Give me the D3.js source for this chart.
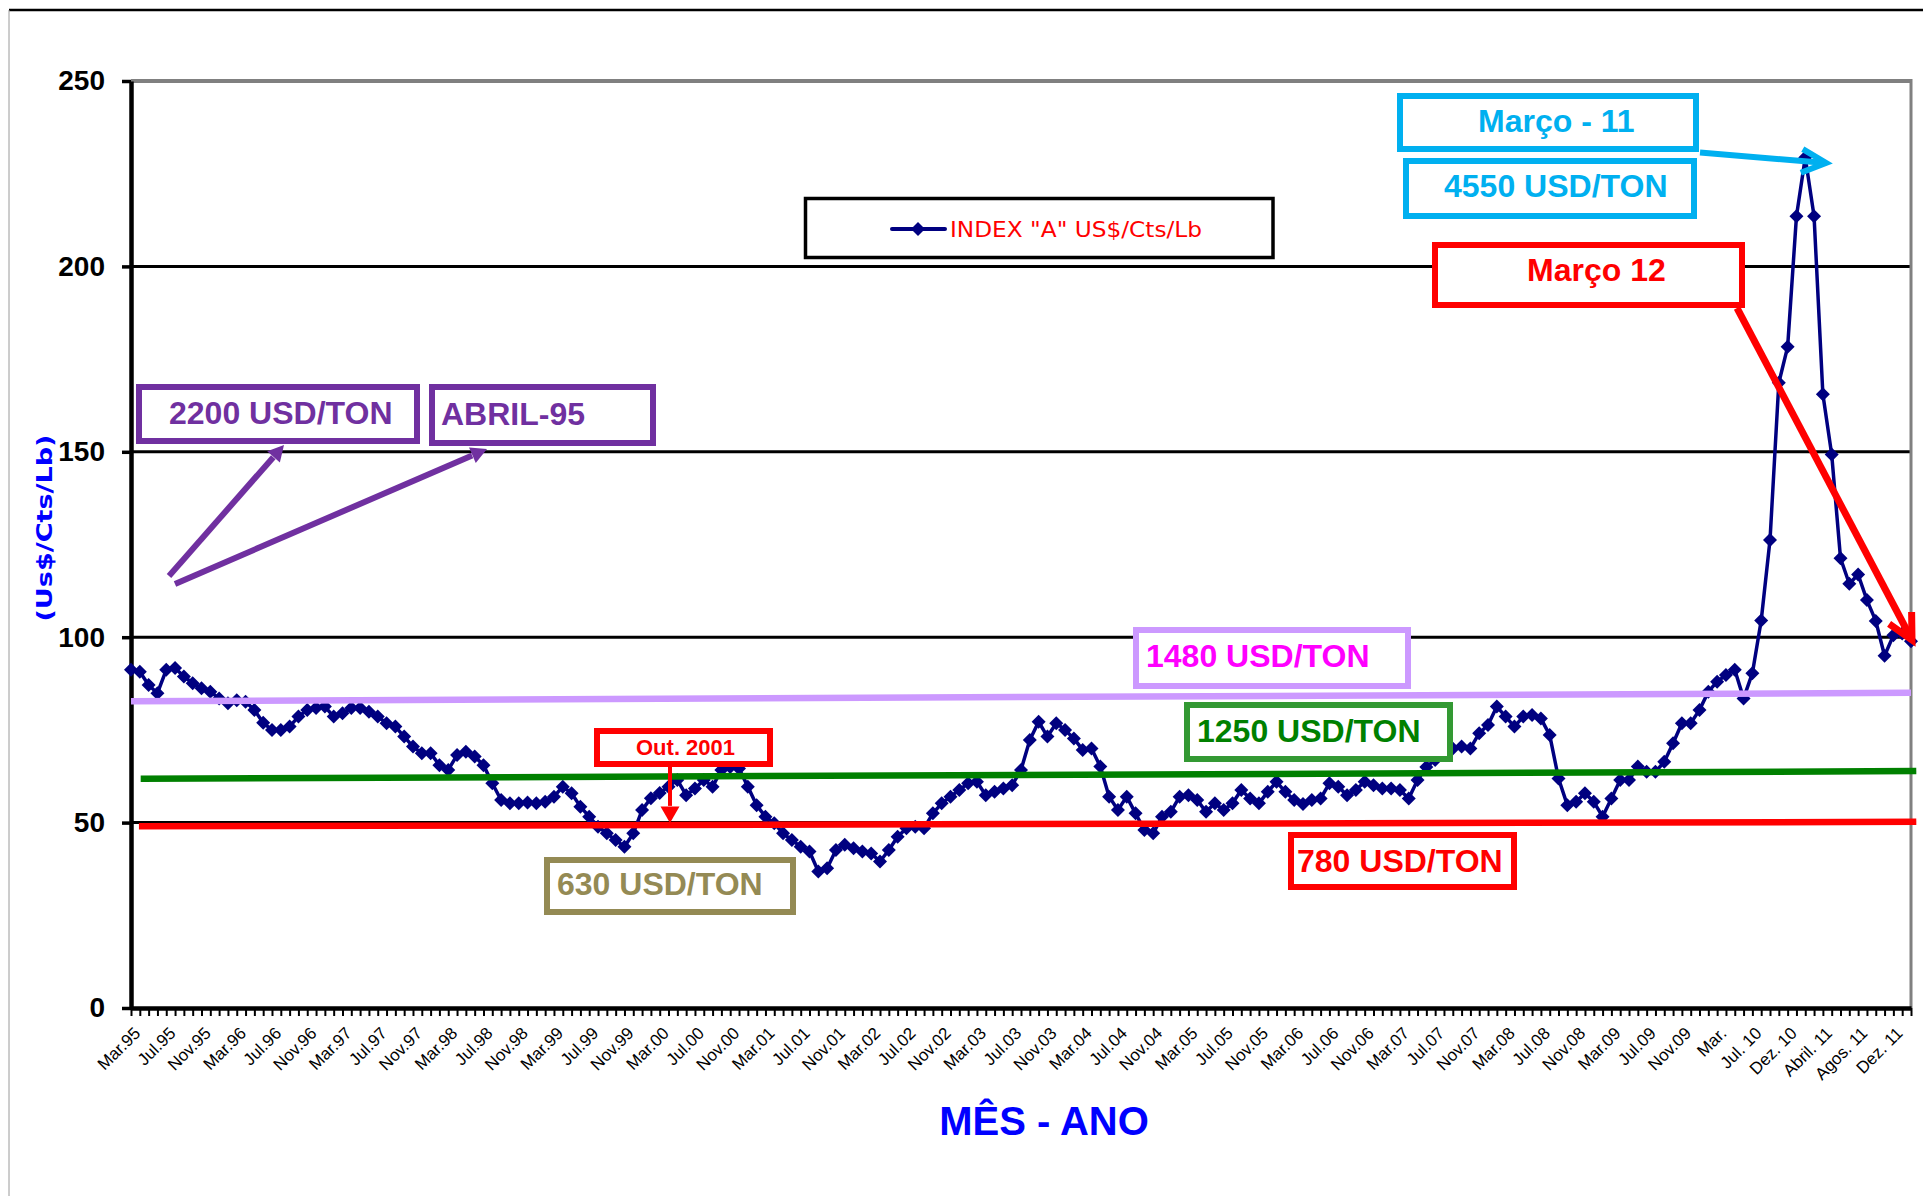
<!DOCTYPE html>
<html>
<head>
<meta charset="utf-8">
<script src="https://cdn.jsdelivr.net/npm/d3@7"></script>
<style>
  html, body { margin: 0; padding: 0; background: #fff; }
  svg { display: block; }
</style>
</head>
<body>
<svg id="chart" width="1923" height="1196"></svg>
<script>
// ---- data ----------------------------------------------------------------
const seriesName = 'INDEX "A" US$/Cts/Lb';
const yTitle = "(Us$/Cts/Lb)";
const xTitle = "MÊS - ANO";

// category labels, one for every fourth observation
const tickLabels = [
  "Mar.95","Jul.95","Nov.95","Mar.96","Jul.96","Nov.96","Mar.97","Jul.97","Nov.97",
  "Mar.98","Jul.98","Nov.98","Mar.99","Jul.99","Nov.99","Mar.00","Jul.00","Nov.00",
  "Mar.01","Jul.01","Nov.01","Mar.02","Jul.02","Nov.02","Mar.03","Jul.03","Nov.03",
  "Mar.04","Jul.04","Nov.04","Mar.05","Jul.05","Nov.05","Mar.06","Jul.06","Nov.06",
  "Mar.07","Jul.07","Nov.07","Mar.08","Jul.08","Nov.08","Mar.09","Jul.09","Nov.09",
  "Mar.","Jul. 10","Dez. 10","Abril. 11","Agos. 11","Dez. 11"
];
const labelEvery = 4;

// Cotlook INDEX "A", US cents per lb
const indexA = [
  91.2, 90.7, 87.1, 84.9, 91.2, 91.7, 89.4, 87.6, 86.2, 85.3,
  83.5, 82.2, 83.0, 82.6, 80.4, 76.9, 75.0, 75.0, 75.9, 78.6,
  80.4, 80.9, 81.3, 78.6, 79.5, 80.9, 80.9, 79.9, 78.6, 76.8,
  75.9, 73.2, 70.5, 68.7, 68.7, 65.5, 64.2, 68.2, 69.1, 67.8,
  65.5, 60.6, 56.1, 55.2, 55.2, 55.4, 55.2, 55.6, 57.0, 59.7,
  57.9, 54.3, 51.6, 48.9, 47.1, 45.3, 43.5, 47.1, 53.4, 56.6,
  58.0, 59.7, 61.5, 57.4, 59.2, 61.5, 59.7, 64.2, 65.0, 64.6,
  59.7, 54.7, 51.6, 49.8, 47.1, 45.3, 43.5, 42.2, 36.8, 37.7,
  42.6, 44.0, 43.1, 42.2, 41.7, 39.5, 42.6, 46.2, 48.5, 48.9,
  48.5, 52.5, 55.2, 57.0, 58.8, 60.6, 61.0, 57.4, 58.3, 59.2,
  60.1, 64.2, 72.3, 77.2, 73.2, 76.8, 75.0, 72.7, 69.6, 70.0,
  65.1, 57.0, 53.4, 57.0, 52.5, 48.0, 47.1, 51.6, 52.9, 57.0,
  57.4, 56.1, 52.9, 55.2, 53.4, 55.2, 58.8, 56.5, 55.2, 58.3,
  61.0, 58.3, 56.1, 55.0, 56.1, 56.5, 60.6, 59.7, 57.4, 58.8,
  61.0, 60.1, 59.2, 59.2, 58.8, 56.5, 61.5, 65.0, 66.9, 69.0,
  70.0, 70.5, 70.0, 74.1, 76.3, 81.3, 78.6, 75.9, 78.6, 79.0,
  78.1, 73.6, 61.9, 54.7, 55.6, 57.9, 55.6, 51.6, 56.5, 61.5,
  61.5, 65.1, 63.7, 63.7, 66.4, 71.4, 76.8, 76.8, 80.4, 85.3,
  88.0, 89.8, 91.2, 83.5, 90.3, 104.5, 126.2, 168.6, 178.3, 213.5,
  229.4, 213.5, 165.5, 149.3, 121.3, 114.4, 116.9, 110.0, 104.4, 95.0,
  100.5, 101.0, 98.9
];

const yTicks = [0, 50, 100, 150, 200, 250];

// price reference levels (value at the start and at the end of each line)
const levelNames  = ["1480 USD/TON", "1250 USD/TON", "780 USD/TON"];
const levelStart  = [[0.0, 82.7], [1.1, 61.8], [0.9, 49.0]];
const levelEnd    = [[202.0, 85.0], [202.6, 63.9], [202.6, 50.2]];
const levelColors = ["#CC99FF", "#008000", "#FF0000"];

// ---- layout --------------------------------------------------------------
const W = 1923, H = 1196;
const plot = { left: 131, right: 1911, top: 81, bottom: 1008 };
const FONT = "'Liberation Sans', Arial, Helvetica, sans-serif";
const FONT_ROUND = "'DejaVu Sans', Verdana, sans-serif";

const svg = d3.select("#chart");
svg.append("rect").attr("width", W).attr("height", H).attr("fill", "#fff");

// outer frame
svg.append("line").attr("x1", 9).attr("x2", W).attr("y1", 10).attr("y2", 10)
  .attr("stroke", "#000").attr("stroke-width", 2.5);
svg.append("line").attr("x1", 9).attr("x2", 9).attr("y1", 10).attr("y2", H)
  .attr("stroke", "#9a9a9a").attr("stroke-width", 1);

const x = d3.scaleLinear().domain([0, indexA.length - 1]).range([plot.left, plot.right]);
const y = d3.scaleLinear().domain([0, 250]).range([plot.bottom, plot.top]);

// horizontal gridlines
const grid = svg.append("g");
grid.selectAll("line").data(yTicks.filter(v => v > 0)).join("line")
  .attr("x1", plot.left).attr("x2", plot.right)
  .attr("y1", d => y(d)).attr("y2", d => y(d))
  .attr("stroke", d => d === 250 ? "#808080" : "#000")
  .attr("stroke-width", d => d === 250 ? 4 : 3);
// right border of the plot area
svg.append("line").attr("x1", plot.right).attr("x2", plot.right)
  .attr("y1", plot.top - 2).attr("y2", plot.bottom)
  .attr("stroke", "#808080").attr("stroke-width", 3);

// y axis
const yAxis = svg.append("g").attr("transform", `translate(${plot.left},0)`)
  .call(d3.axisLeft(y).tickValues(yTicks).tickSize(9).tickSizeOuter(0).tickPadding(17));
yAxis.select(".domain").attr("stroke", "#000").attr("stroke-width", 4.5);
yAxis.selectAll(".tick line").attr("stroke", "#000").attr("stroke-width", 3.5);
yAxis.selectAll(".tick text").attr("fill", "#000")
  .style("font-family", FONT).style("font-size", "28px").style("font-weight", "bold");

// x axis: a small tick under every observation
const xAxis = svg.append("g").attr("transform", `translate(0,${plot.bottom})`)
  .call(d3.axisBottom(x).tickValues(d3.range(indexA.length)).tickSize(8)
        .tickSizeOuter(0).tickFormat(""));
xAxis.select(".domain").attr("stroke", "#000").attr("stroke-width", 4.5);
xAxis.selectAll(".tick line").attr("stroke", "#000").attr("stroke-width", 2);

// rotated category labels
svg.append("g").selectAll("text").data(tickLabels).join("text")
  .attr("transform", (d, i) => `translate(${x(i * labelEvery) + 6},${plot.bottom + 22}) rotate(-45)`)
  .attr("text-anchor", "end").attr("dy", "0.36em")
  .style("font-family", FONT).style("font-size", "17px").attr("fill", "#000")
  .text(d => d);

// axis titles
svg.append("text").attr("x", 1044).attr("y", 1135).attr("text-anchor", "middle")
  .style("font-family", FONT).style("font-size", "40px").style("font-weight", "bold")
  .attr("fill", "#0000FF").text(xTitle);
svg.append("text").attr("transform", "translate(52,528) rotate(-90)")
  .attr("text-anchor", "middle")
  .style("font-family", FONT_ROUND).style("font-size", "22px").style("font-weight", "bold")
  .attr("textLength", 187).attr("lengthAdjust", "spacingAndGlyphs")
  .attr("fill", "#0000FF").text(yTitle);

// ---- series ----------------------------------------------------------------
const diamond = r => `M0,${-r}L${r},0L0,${r}L${-r},0Z`;
const line = d3.line().x((d, i) => x(i)).y(d => y(d));
svg.append("path").datum(indexA).attr("d", line)
  .attr("fill", "none").attr("stroke", "#000080").attr("stroke-width", 3.5)
  .attr("stroke-linejoin", "round");
svg.append("g").selectAll("path").data(indexA).join("path")
  .attr("transform", (d, i) => `translate(${x(i)},${y(d)})`)
  .attr("d", diamond(7)).attr("fill", "#000080");

// ---- reference levels --------------------------------------------------------
svg.append("g").selectAll("line").data(levelNames).join("line")
  .attr("x1", (d, i) => x(levelStart[i][0])).attr("y1", (d, i) => y(levelStart[i][1]))
  .attr("x2", (d, i) => x(levelEnd[i][0])).attr("y2", (d, i) => y(levelEnd[i][1]))
  .attr("stroke", (d, i) => levelColors[i]).attr("stroke-width", 6.5);

// ---- legend ------------------------------------------------------------------
const lg = svg.append("g");
lg.append("rect").attr("x", 805.5).attr("y", 198.5).attr("width", 467.5).attr("height", 59)
  .attr("fill", "#fff").attr("stroke", "#000").attr("stroke-width", 3.5);
lg.append("line").attr("x1", 892).attr("x2", 945).attr("y1", 229).attr("y2", 229)
  .attr("stroke", "#000080").attr("stroke-width", 4).attr("stroke-linecap", "round");
lg.append("path").attr("transform", "translate(918,229)").attr("d", diamond(7)).attr("fill", "#000080");
lg.append("text").attr("x", 950).attr("y", 237)
  .style("font-family", FONT_ROUND).style("font-size", "21px")
  .attr("textLength", 252).attr("lengthAdjust", "spacingAndGlyphs")
  .attr("fill", "#FF0000").text(seriesName);

// ---- annotations ---------------------------------------------------------------
const notes = [
  { t: "2200 USD/TON", b: [136, 384, 420, 444], c: "#7030A0", tc: "#7030A0", tx: 169, ty: 424, fs: 32 },
  { t: "ABRIL-95",     b: [429, 384, 656, 446], c: "#7030A0", tc: "#7030A0", tx: 441, ty: 425, fs: 32 },
  { t: "1480 USD/TON", b: [1133, 627, 1411, 689], c: "#CC99FF", tc: "#FF00FF", tx: 1146, ty: 667, fs: 32 },
  { t: "1250 USD/TON", b: [1184, 702, 1453, 762], c: "#339933", tc: "#008000", tx: 1197, ty: 742, fs: 32 },
  { t: "780 USD/TON",  b: [1288, 832, 1517, 890], c: "#FF0000", tc: "#FF0000", tx: 1297, ty: 872, fs: 32 },
  { t: "630 USD/TON",  b: [544, 857, 796, 915],   c: "#948A54", tc: "#948A54", tx: 557, ty: 895, fs: 32 },
  { t: "Out. 2001",    b: [594, 728, 773, 767],   c: "#FF0000", tc: "#FF0000", tx: 636, ty: 755, fs: 22 },
  { t: "Março - 11",   b: [1397, 93, 1699, 152],  c: "#00B0F0", tc: "#00B0F0", tx: 1478, ty: 132, fs: 32 },
  { t: "4550 USD/TON", b: [1403, 158, 1697, 219], c: "#00B0F0", tc: "#00B0F0", tx: 1444, ty: 197, fs: 32 },
  { t: "Março 12",     b: [1432, 242, 1745, 308], c: "#FF0000", tc: "#FF0000", tx: 1527, ty: 281, fs: 32 }
];
const sw = 6;
const ng = svg.append("g");
notes.forEach(n => {
  ng.append("rect")
    .attr("x", n.b[0] + sw / 2).attr("y", n.b[1] + sw / 2)
    .attr("width", n.b[2] - n.b[0] - sw).attr("height", n.b[3] - n.b[1] - sw)
    .attr("fill", "#fff").attr("stroke", n.c).attr("stroke-width", sw);
  ng.append("text").attr("x", n.tx).attr("y", n.ty)
    .style("font-family", FONT).style("font-size", n.fs + "px").style("font-weight", "bold")
    .attr("fill", n.tc).text(n.t);
});

// arrows: filled triangular heads or open chevrons
function arrow(x1, y1, x2, y2, color, width, head, len, spread) {
  const g = svg.append("g");
  const a = Math.atan2(y2 - y1, x2 - x1);
  const back = head === "fill" ? len * 0.9 : 0;
  g.append("line").attr("x1", x1).attr("y1", y1)
    .attr("x2", x2 - back * Math.cos(a)).attr("y2", y2 - back * Math.sin(a))
    .attr("stroke", color).attr("stroke-width", width);
  const s = spread * Math.PI / 180;
  const p1 = [x2 - len * Math.cos(a - s), y2 - len * Math.sin(a - s)];
  const p2 = [x2 - len * Math.cos(a + s), y2 - len * Math.sin(a + s)];
  if (head === "fill") {
    g.append("path").attr("d", `M${x2},${y2}L${p1[0]},${p1[1]}L${p2[0]},${p2[1]}Z`).attr("fill", color);
  } else {
    g.append("path").attr("d", `M${p1[0]},${p1[1]}L${x2},${y2}L${p2[0]},${p2[1]}`)
      .attr("fill", "none").attr("stroke", color).attr("stroke-width", width)
      .attr("stroke-linecap", "butt").attr("stroke-linejoin", "miter");
  }
}
arrow(169, 576, 284, 445, "#7030A0", 6, "fill", 18, 28);
arrow(175, 584, 487, 449, "#7030A0", 6, "fill", 18, 28);
arrow(670, 767, 670, 823, "#FF0000", 4, "fill", 19, 30);
arrow(1700, 152.5, 1826, 163, "#00B0F0", 6, "open", 27, 26);
arrow(1737, 308, 1912, 640, "#FF0000", 7, "open", 28, 27);
</script>
</body>
</html>
